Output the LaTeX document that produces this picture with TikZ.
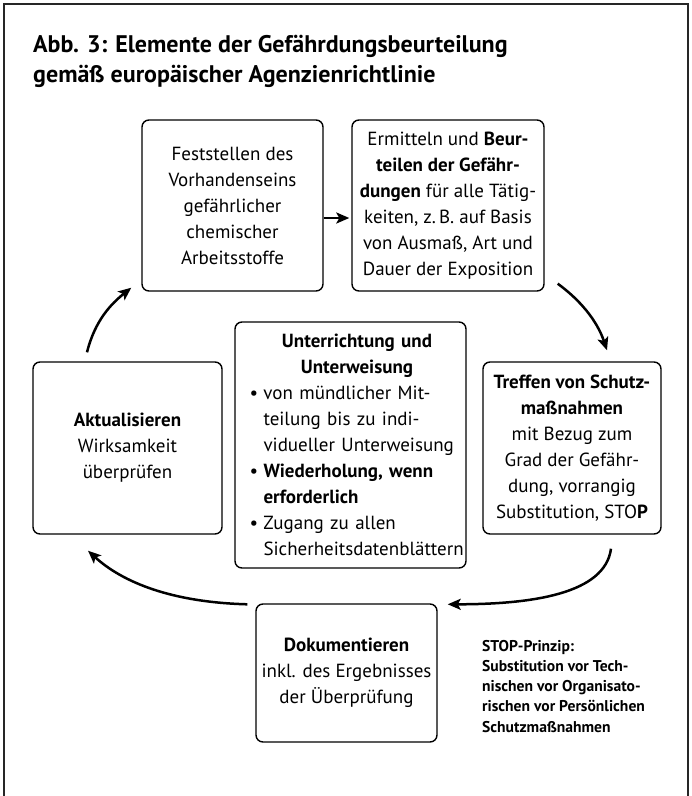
\documentclass[tikz,border=0pt]{standalone}
\usepackage{fontspec}
\setmainfont{PT Sans}
\usetikzlibrary{arrows.meta}
\newcommand\dgbox{\fontsize{19}{26}\selectfont}
\newcommand\dgtitle{\fontsize{24}{30}\selectfont\bfseries}
\newcommand\dgnote{\fontsize{15.6}{20.2}\selectfont\bfseries}
\newcommand\dgitem{\hspace*{13pt}\makebox[14pt][l]{\textbullet}}
\newcommand\dgcont{\hspace*{27pt}}
\begin{document}
\begin{tikzpicture}[x=1pt,y=-1pt,
  box/.style={draw, line width=1.4pt, rounded corners=7pt, inner sep=0pt, align=center, font=\dgbox, text=black},
  arr/.style={line width=2.5pt, -{Stealth[length=13pt,width=11pt,inset=3pt]}},
  frame/.style={line width=1.3pt, draw=black!85}]
\useasboundingbox (0,0) rectangle (692,796);
\draw[frame] (4,800) -- (4,4) -- (688,4) -- (688,800);

\node[anchor=north west, inner sep=0pt, align=left, font=\dgtitle, text=black] (title) at (33,35)
  {Abb. 3: Elemente der Gefährdungsbeurteilung\\gemäß europäischer Agenzienrichtlinie};

\node[box, minimum width=181pt, minimum height=171pt] (feststellen) at (232.5,205.5)
  {Feststellen des\\Vorhandenseins\\gefährlicher\\chemischer\\Arbeitsstoffe};
\node[box, minimum width=192pt, minimum height=171pt] (ermitteln) at (448,205.5)
  {Ermitteln und \textbf{Beur-}\\\textbf{teilen der Gefähr-}\\\textbf{dungen} für alle Tätig-\\keiten, z.\,B. auf Basis\\von Ausmaß, Art und\\Dauer der Exposition};
\node[box, minimum width=189pt, minimum height=172pt] (aktual) at (127.5,448)
  {\textbf{Aktualisieren}\\Wirksamkeit\\überprüfen};
\node[box, minimum width=178pt, minimum height=172pt] (treffen) at (572,448)
  {\textbf{Treffen von Schutz-}\\\textbf{maßnahmen}\\mit Bezug zum\\Grad der Gefähr-\\dung, vorrangig\\Substitution, STO\textbf{P}};
\node[box, minimum width=231pt, minimum height=246pt, align=left, text width=228pt] (unter) at (350.5,445)
  {\makebox[228pt][c]{\hspace*{13pt}\textbf{Unterrichtung und}}\\
   \makebox[228pt][c]{\hspace*{13pt}\textbf{Unterweisung}}\\
   \dgitem\mbox{von mündlicher Mit-}\\
   \dgcont\mbox{teilung bis zu indi-}\\
   \dgcont\mbox{vidueller Unterweisung}\\
   \dgitem\mbox{\textbf{Wiederholung, wenn}}\\
   \dgcont\mbox{\textbf{erforderlich}}\\
   \dgitem\mbox{Zugang zu allen}\\
   \dgcont\mbox{Sicherheitsdatenblättern}};
\node[box, minimum width=181pt, minimum height=138pt] (doku) at (346.5,673)
  {\textbf{Dokumentieren}\\inkl. des Ergebnisses\\der Überprüfung};
\node[anchor=north west, inner sep=0pt, align=left, font=\dgnote, text=black] (stop) at (482,640)
  {STOP-Prinzip:\\Substitution vor Tech-\\nischen vor Organisato-\\rischen vor Persönlichen\\Schutzmaßnahmen};

\draw[arr] ([shift={(0,12.5)}]feststellen.east) -- ([shift={(-2,12.5)}]ermitteln.west);
\draw[arr] ([shift={(13,-8)}]ermitteln.south east) .. controls +(22,16) and +(-10,-30) .. ([shift={(35,-11)}]treffen.north);
\draw[arr] ([shift={(39,14)}]treffen.south) .. controls +(-6,45) and +(85,0) .. ([shift={(10,1)}]doku.north east);
\draw[arr] ([shift={(-8,1)}]doku.north west) .. controls +(-75,-2) and +(35,32) .. ([shift={(-39.5,16)}]aktual.south);
\draw[arr] ([shift={(-40.5,-9)}]aktual.north) .. controls +(8,-32) and +(-20,16) .. ([shift={(-10,-4)}]feststellen.south west);
\end{tikzpicture}
\end{document}
